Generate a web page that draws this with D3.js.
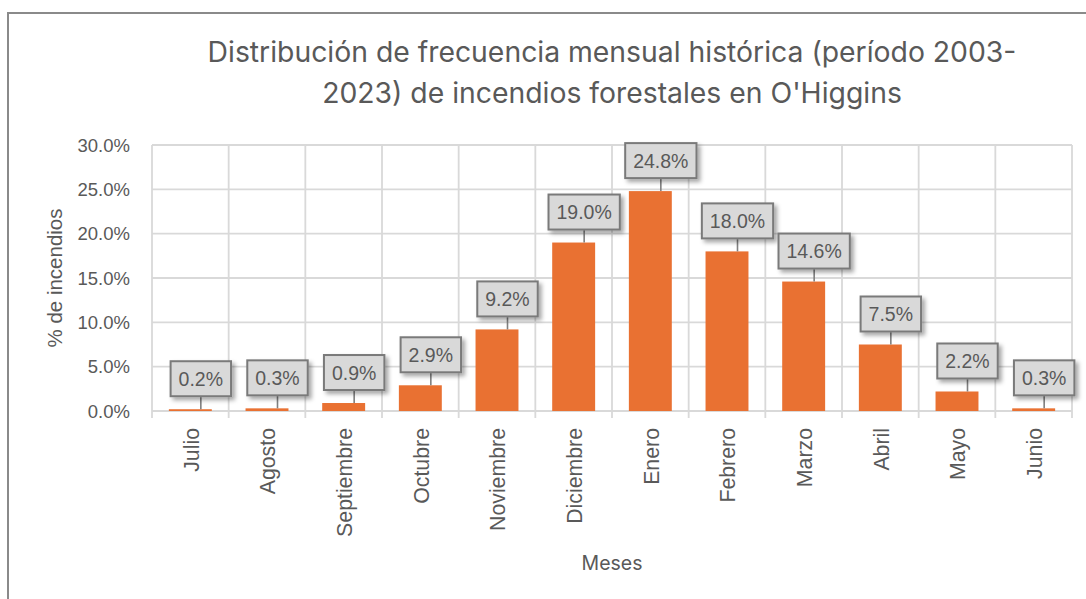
<!DOCTYPE html>
<html>
<head>
<meta charset="utf-8">
<script src="https://cdn.jsdelivr.net/npm/d3@7"></script>
<style>
  html, body { margin: 0; padding: 0; background: #fff; }
  svg { display: block; }
</style>
</head>
<body>
<svg id="chart" width="1086" height="599"></svg>
<script>
// Monthly share of forest fires, O'Higgins region, 2003-2023 season (July to June)
const months = ["Julio", "Agosto", "Septiembre", "Octubre", "Noviembre", "Diciembre",
                "Enero", "Febrero", "Marzo", "Abril", "Mayo", "Junio"];
const shares = [0.2, 0.3, 0.9, 2.9, 9.2, 19.0, 24.8, 18.0, 14.6, 7.5, 2.2, 0.3];
const yTicks = [0, 5, 10, 15, 20, 25, 30];

const titleLines = ["Distribución de frecuencia mensual histórica (período 2003-",
                    "2023) de incendios forestales en O'Higgins"];
const yTitle = "% de incendios";
const xTitle = "Meses";

const textColor = "#595959";
const gridColor = "#d9d9d9";
const barColor = "#E97132";

const svg = d3.select("#chart");

// drop shadow for the value callouts
const defs = svg.append("defs");
const f = defs.append("filter").attr("id", "shadow")
  .attr("x", "-20%").attr("y", "-20%").attr("width", "150%").attr("height", "160%");
f.append("feDropShadow").attr("dx", 3).attr("dy", 3).attr("stdDeviation", 2.2)
  .attr("flood-color", "#000").attr("flood-opacity", 0.35);

// outer chart frame
svg.append("rect")
  .attr("x", 8).attr("y", 13).attr("width", 1100).attr("height", 620)
  .attr("fill", "#fff").attr("stroke", "#8a8a8a").attr("stroke-width", 2);

const plot = { left: 152, right: 1072, top: 145, bottom: 411 };

const x = d3.scaleBand().domain(months)
  .range([plot.left, plot.right])
  .paddingInner(0.44).paddingOuter(0.22);

const y = d3.scaleLinear().domain([0, 30]).range([plot.bottom, plot.top]);

// horizontal gridlines
svg.append("g").selectAll("line").data(yTicks).join("line")
  .attr("x1", plot.left).attr("x2", plot.right)
  .attr("y1", d => y(d)).attr("y2", d => y(d))
  .attr("stroke", gridColor).attr("stroke-width", 1.8);

// vertical gridlines between categories, extending below the axis as tick marks
const edges = d3.range(months.length + 1).map(i => plot.left + i * x.step());
svg.append("g").selectAll("line").data(edges).join("line")
  .attr("x1", d => d).attr("x2", d => d)
  .attr("y1", plot.top).attr("y2", plot.bottom + 7)
  .attr("stroke", gridColor).attr("stroke-width", 1.8);

// y tick labels
svg.append("g").selectAll("text").data(yTicks).join("text")
  .attr("x", 130).attr("y", d => y(d)).attr("dy", "0.36em")
  .attr("text-anchor", "end")
  .attr("font-family", "Liberation Sans, Arial, sans-serif")
  .attr("font-size", 18.5).attr("fill", textColor)
  .text(d => d3.format(".1f")(d) + "%");

// bars
svg.append("g").selectAll("rect").data(months).join("rect")
  .attr("x", d => x(d))
  .attr("width", x.bandwidth())
  .attr("y", (d, i) => y(shares[i]))
  .attr("height", (d, i) => plot.bottom - y(shares[i]))
  .attr("fill", barColor);

// x category labels (rotated)
svg.append("g").selectAll("text").data(months).join("text")
  .attr("transform", d => `translate(${x(d) + x.bandwidth() / 2 + 1},428) rotate(-90)`)
  .attr("text-anchor", "end").attr("dy", "0.35em")
  .attr("font-family", "Liberation Sans, Arial, sans-serif")
  .attr("font-size", 21.3).attr("fill", textColor)
  .text(d => d);

// value callouts with leader lines
const callouts = svg.append("g");
months.forEach((m, i) => {
  const cx = x(m) + x.bandwidth() / 2 + 10.5;
  const top = y(shares[i]);
  const boxBottom = top - 13;
  const boxH = 35;
  const g = callouts.append("g");
  g.append("line")
    .attr("x1", cx).attr("x2", cx)
    .attr("y1", boxBottom).attr("y2", top)
    .attr("stroke", "#7f7f7f").attr("stroke-width", 1.6);
  const label = d3.format(".1f")(shares[i]) + "%";
  const t = g.append("text")
    .attr("x", cx).attr("y", boxBottom - boxH / 2).attr("dy", "0.36em")
    .attr("text-anchor", "middle")
    .attr("font-family", "Liberation Sans, Arial, sans-serif")
    .attr("font-size", 19.5).attr("fill", textColor)
    .text(label);
  const w = t.node().getComputedTextLength() + 16;
  g.insert("rect", "text")
    .attr("x", cx - w / 2).attr("y", boxBottom - boxH)
    .attr("width", w).attr("height", boxH)
    .attr("fill", "#d9d9d9").attr("stroke", "#7a7a7a").attr("stroke-width", 2)
    .attr("filter", "url(#shadow)");
});

// axis titles
svg.append("text")
  .attr("transform", `translate(55,${(plot.top + plot.bottom) / 2}) rotate(-90)`)
  .attr("text-anchor", "middle").attr("dy", "0.35em")
  .attr("font-family", "Liberation Sans, Arial, sans-serif")
  .attr("font-size", 20.5).attr("fill", textColor)
  .text(yTitle);

svg.append("text")
  .attr("x", 612).attr("y", 570)
  .attr("text-anchor", "middle")
  .attr("font-family", "Inter, Open Sans, sans-serif")
  .attr("font-size", 19.5).attr("fill", textColor)
  .text(xTitle);

// chart title, sized so the first line spans its set width
const titleG = svg.append("g");
const tl = titleG.selectAll("text").data(titleLines).join("text")
  .attr("x", 612).attr("y", (d, i) => 62 + i * 41)
  .attr("text-anchor", "middle")
  .attr("font-family", "Inter, Open Sans, sans-serif")
  .attr("font-size", 28).attr("fill", textColor)
  .text(d => d);
const w0 = tl.nodes()[0].getComputedTextLength();
tl.attr("font-size", 28 * 809 / w0);
</script>
</body>
</html>
